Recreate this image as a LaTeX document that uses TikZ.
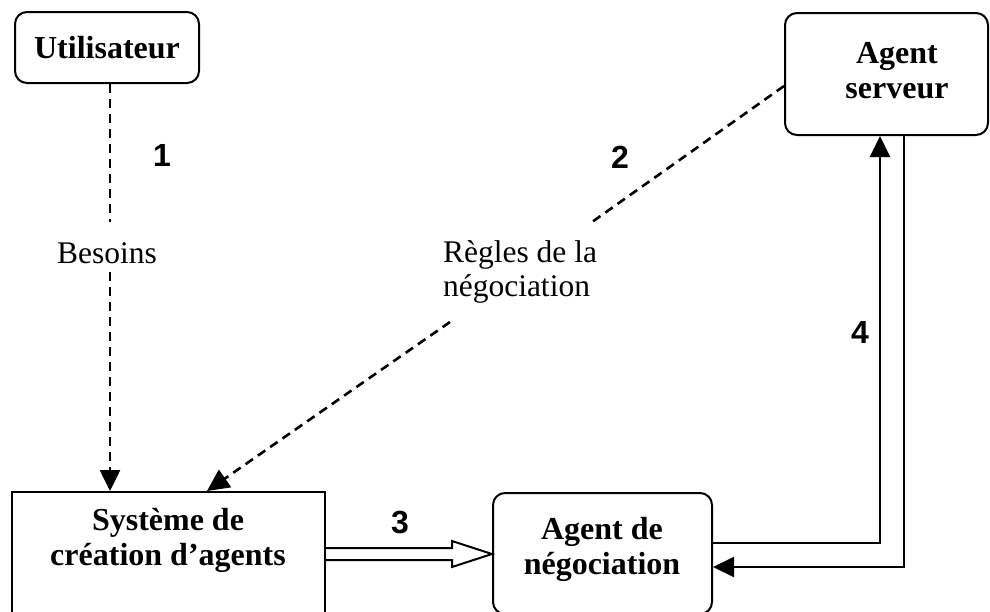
\documentclass[tikz,border=0pt]{standalone}
\usepackage{fontspec}
\setmainfont{Liberation Serif}
\newfontfamily\numfont{Liberation Sans}
\usetikzlibrary{arrows.meta}
\begin{document}
\begin{tikzpicture}[x=1pt,y=-1pt,
  box/.style={draw, line width=2pt, inner sep=0pt},
  rbox/.style={box, rounded corners=12pt},
  btxt/.style={font=\fontsize{32}{35}\selectfont\bfseries, align=center, inner sep=0pt},
  ntxt/.style={font=\fontsize{31.5}{34}\selectfont, inner sep=0pt},
  num/.style={font=\numfont\bfseries\fontsize{32}{36}\selectfont, inner sep=0pt},
  dashline/.style={line width=2.6pt, dash pattern=on 9pt off 6pt},
  solidline/.style={line width=2pt},
  tip/.style={-{Triangle[length=21pt,width=20pt]}}
]
\useasboundingbox (0,0) rectangle (990,611);
\clip (0,0) rectangle (990,611);

% boxes
\node[rbox, btxt, minimum width=184pt, minimum height=71pt] (usr) at (107,47.5) {Utilisateur};
\node[rbox, minimum width=203pt, minimum height=122pt] (srv) at (886.5,74) {};
\node[btxt] (srvt) at (897,71) {Agent\\serveur};
\node[box, minimum width=313pt, minimum height=148pt] (sys) at (168.5,566) {};
\node[btxt] (syst) at (168,540) {Système de\\création d’agents};
\node[rbox, minimum width=219pt, minimum height=121pt] (neg) at (602.5,553.5) {};
\node[btxt] (negt) at (602,549) {Agent de\\négociation};

% labels
\node[num] (n1) at (162,155) {1};
\node[num] (n2) at (620,157) {2};
\node[num] (n3) at (400,522) {3};
\node[num] (n4) at (860,332) {4};
\node[ntxt] (besoins) at (107,253) {Besoins};
\node[ntxt, align=left] (regles) at (520,272) {Règles de la\\négociation};

% connector 1
\coordinate (g1a) at (110,222);
\coordinate (g1b) at (110,272);
\draw[dashline] (g1a |- usr.south) -- (g1a);
\draw[dashline, tip] (g1b) -- (g1b |- sys.north);

% connector 2
\coordinate (g2a) at (592,222);
\coordinate (g2b) at (450,322);
\coordinate (e2) at (207,0);
\draw[dashline] (srv.west |- 0,86) -- (g2a);
\draw[dashline, -{Triangle[length=22pt,width=21pt]}] (g2b) -- (e2 |- sys.north);

% connector 3 (hollow double arrow)
\coordinate (h3) at (452,0);
\draw[solidline, line join=miter] (sys.east |- 0,548) -- (h3 |- 0,548) -- (h3 |- 0,541)
  -- (neg.west |- 0,554) -- (h3 |- 0,567) -- (h3 |- 0,560) -- (sys.east |- 0,560);

% connector 4
\coordinate (c4a) at (880,543);
\coordinate (c4b) at (904,567);
\draw[solidline, tip] (neg.east |- c4a) -- (c4a) -- (c4a |- srv.south);
\draw[solidline, tip] (c4b |- srv.south) -- (c4b) -- (neg.east |- c4b);
\end{tikzpicture}
\end{document}
